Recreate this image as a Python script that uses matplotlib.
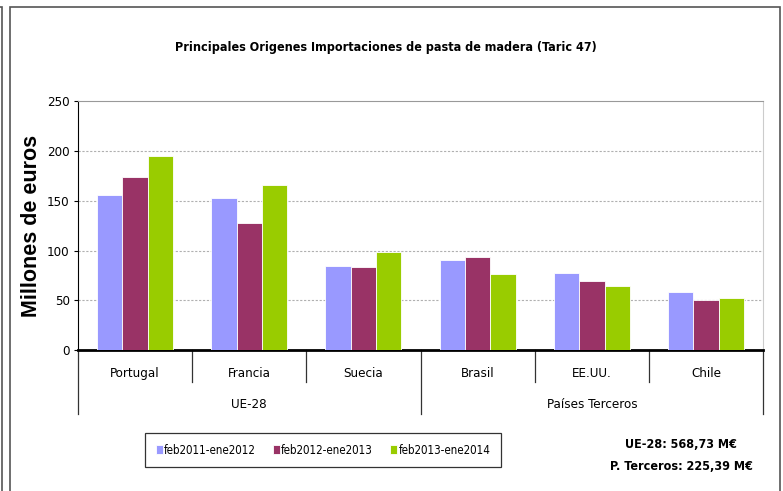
import numpy as np
import matplotlib
matplotlib.use('Agg')
import matplotlib.pyplot as plt
from matplotlib.patches import Rectangle
import matplotlib.transforms as mtransforms

plt.rcParams['font.family'] = ['DejaVu Sans']
plt.rcParams['font.stretch'] = 'condensed'

# datos (millones de euros)
paises = ['Portugal', 'Francia', 'Suecia', 'Brasil', 'EE.UU.', 'Chile']
grupos = ['UE-28', 'Países Terceros']
series = ['feb2011-ene2012', 'feb2012-ene2013', 'feb2013-ene2014']
v_2012 = [156, 153, 84, 90, 77, 58]
v_2013 = [174, 128, 83, 93, 69, 50]
v_2014 = [195, 166, 98, 76, 64, 52.5]
colores = ['#9999FF', '#993366', '#99CC00']
totales = ['UE-28: 568,73 M€', 'P. Terceros: 225,39 M€']

fig = plt.figure(figsize=(7.83, 4.91), dpi=100)
ax = fig.add_axes([0.0996, 0.287, 0.875, 0.507])

x = np.arange(len(paises))
w = 0.222
for i, (vals, c, lab) in enumerate(zip([v_2012, v_2013, v_2014], colores, series)):
    ax.bar(x + (i - 1) * w, vals, w, color=c, edgecolor='white', linewidth=0.6,
           label=lab, zorder=3)

ax.set_xlim(-0.5, len(paises) - 0.5)
ax.set_ylim(0, 250)
ax.set_yticks(range(0, 251, 50))
ax.set_yticklabels([str(v) for v in range(0, 251, 50)], fontsize=9.5, fontstretch='condensed')
ax.tick_params(axis='y', length=3, direction='out', pad=3)
ax.set_xticks([])
for y in range(50, 250, 50):
    ax.axhline(y, color='#b0b0b0', lw=0.8, ls=(0, (2, 1.5)), zorder=1)
ax.spines['left'].set_color('black')
ax.spines['bottom'].set_color('black')
ax.spines['bottom'].set_linewidth(2)
ax.spines['top'].set_color('#999999')
ax.spines['right'].set_color('#cccccc')
ax.set_ylabel('Millones de euros', fontsize=15.5, fontweight='bold',
              family=['Liberation Sans', 'DejaVu Sans'], fontstretch='normal')
ax.yaxis.set_label_coords(-0.052, 0.5)

# etiquetas de categorías en dos niveles
trans = mtransforms.blended_transform_factory(ax.transData, ax.transAxes)
h1, h2 = 32 / 249, 64 / 249
for b in range(len(paises) + 1):
    bx = b - 0.5
    depth = h2 if b in (0, 3, 6) else h1
    ax.plot([bx, bx], [0, -depth], color='#333333', lw=0.9, transform=trans, clip_on=False)
for i, p in enumerate(paises):
    ax.text(i, -23 / 249, p, transform=trans, ha='center', va='center', fontsize=9.5)
ax.text(1, -54 / 249, grupos[0], transform=trans, ha='center', va='center', fontsize=9.5)
ax.text(4, -54 / 249, grupos[1], transform=trans, ha='center', va='center', fontsize=9.5)

fig.text(0.493, 1 - 47 / 491, 'Principales Origenes Importaciones de pasta de madera (Taric 47)',
         ha='center', va='center', fontsize=9, fontweight='bold')

leg = fig.legend(loc='center', bbox_to_anchor=(323 / 783, 1 - 450 / 491), ncol=3,
                 fontsize=8.3, frameon=True, fancybox=False, edgecolor='black',
                 handlelength=0.6, handleheight=0.7, handletextpad=0.1,
                 columnspacing=1.5, borderpad=0.9)
leg.get_frame().set_linewidth(0.9)

fig.text(681 / 783, 1 - 444 / 491, totales[0], ha='center', va='center', fontsize=9, fontweight='bold')
fig.text(681 / 783, 1 - 466 / 491, totales[1], ha='center', va='center', fontsize=9, fontweight='bold')

# marcos exteriores
fig.patches.append(Rectangle((10 / 783, -0.1), 770 / 783, 1.1 - 7 / 491, transform=fig.transFigure,
                             fill=False, edgecolor='#555555', lw=1.2))
fig.patches.append(Rectangle((-0.1, -0.1), 0.1 + 1.5 / 783, 1.1 - 7 / 491, transform=fig.transFigure,
                             fill=False, edgecolor='#555555', lw=1.2))

fig.savefig('out.png', dpi=100)
